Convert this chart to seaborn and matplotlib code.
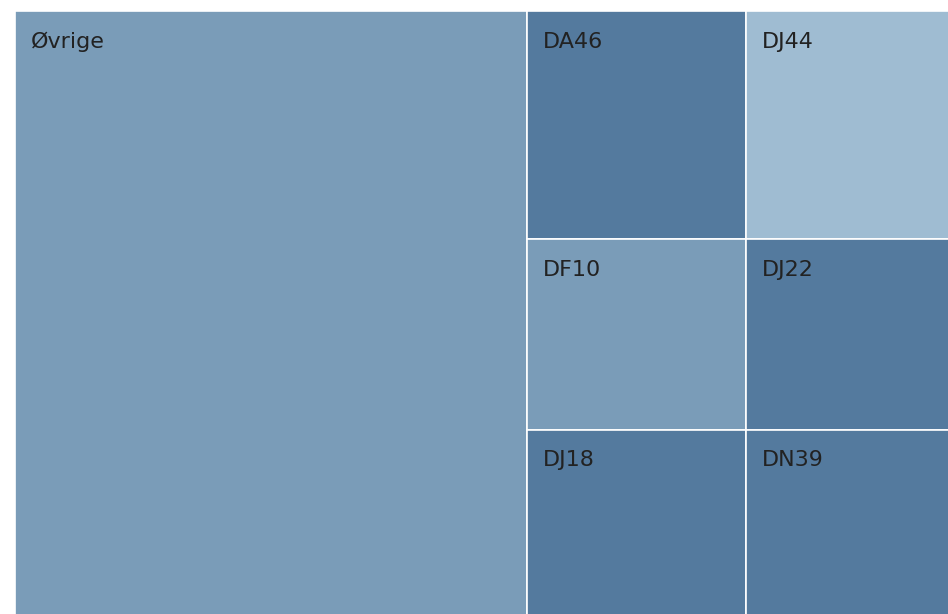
import matplotlib
matplotlib.use("Agg")
import matplotlib.pyplot as plt
from matplotlib.patches import Rectangle
import seaborn as sns

# ----------------------------
# DATA
# ----------------------------
labels = ["Øvrige", "DA46", "DJ44", "DF10", "DJ22", "DJ18", "DN39"]
values = [5460, 880, 820, 736, 685, 720, 669]
# color level per tile (0 = light, 1 = mid, 2 = dark)
levels = [1, 2, 0, 1, 2, 2, 2]
# tiles grouped into rows of the right-hand column (first tile gets its own column)
row_groups = [[1, 2], [3, 4], [5, 6]]

shades = ["#9fbcd2", "#7a9cb8", "#547a9e"]

# ----------------------------
# PLOT
# ----------------------------
sns.set_theme(style="white")
plt.rcParams["font.family"] = ["DejaVu Sans"]

fig = plt.figure(figsize=(9.48, 6.14), dpi=100)
# plot area runs slightly past the right/bottom edge of the image, like the reference
ax = fig.add_axes([15 / 948, -2 / 614, 935 / 948, 605 / 614])
ax.set_xlim(0, 1)
ax.set_ylim(1, 0)
ax.axis("off")

total = sum(values)
rects = {}
# first tile: full-height column on the left
w0 = values[0] / total
rects[0] = (0, 0, w0, 1)
# remaining: stacked rows in the right column
rest = total - values[0]
col_w = 1 - w0
y = 0
for group in row_groups:
    gsum = sum(values[i] for i in group)
    h = gsum / rest
    x = w0
    for i in group:
        w = col_w * values[i] / gsum
        rects[i] = (x, y, w, h)
        x += w
    y += h

for i, (x, y, w, h) in rects.items():
    ax.add_patch(Rectangle((x, y), w, h, facecolor=shades[levels[i]],
                           edgecolor="white", linewidth=1.2))
    ax.annotate(labels[i], xy=(x, y), xytext=(11.5, -26.5), textcoords="offset points",
                ha="left", va="baseline", fontsize=16, color="#222222")

fig.savefig("out.png", dpi=100)
